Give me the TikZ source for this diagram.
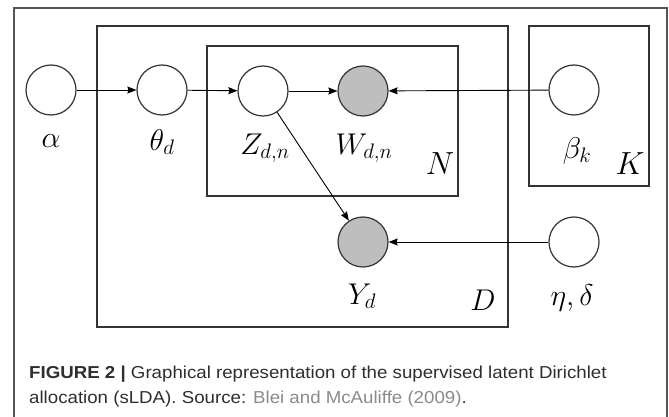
\RequirePackage{fix-cm}
\documentclass[tikz,border=0pt]{standalone}
\usepackage{fontspec}
\newfontfamily\capfont[FakeStretch=1.08]{Liberation Sans}
\usetikzlibrary{arrows.meta}
\definecolor{linegray}{HTML}{333333}
\definecolor{framegray}{HTML}{555555}
\definecolor{fillgray}{HTML}{BEBEBE}
\definecolor{capdark}{HTML}{2E2E2E}
\definecolor{caplight}{HTML}{8A8A8A}
\tikzset{
  var/.style={circle, draw=linegray, line width=1.2pt, minimum size=50pt, inner sep=0pt, fill=white},
  obs/.style={var, fill=fillgray},
  plate/.style={draw=linegray, line width=1.2pt},
  arr/.style={-{Stealth[length=9pt,width=7pt,inset=1pt]}, line width=0.9pt, black},
  lab/.style={anchor=base, inner sep=0pt, font=\fontsize{30}{34}\selectfont},
  platelab/.style={anchor=base, inner sep=0pt, font=\fontsize{32}{36}\selectfont},
  captext/.style={anchor=base west, inner sep=0pt, font=\capfont\fontsize{17.3}{21}\selectfont, text=capdark}
}
\begin{document}
\begin{tikzpicture}[x=1pt,y=-1pt]
\useasboundingbox (0,0) rectangle (669,417);
% outer frame
\draw[framegray, line width=1.2pt] (14,440) -- (14,8) -- (667,8) -- (667,440);
% plates
\draw[plate] (97,26) rectangle (508,327);
\draw[plate] (207,46) rectangle (458,196);
\draw[plate] (529,26) rectangle (649,186);
% nodes
\node[var] (alpha) at (51,90) {};
\node[var] (theta) at (162,90) {};
\node[var] (Z) at (263,91) {};
\node[obs] (W) at (363,91) {};
\node[var] (beta) at (574,90) {};
\node[obs] (Y) at (363,242) {};
\node[var] (eta) at (574,242) {};
% labels
\node[lab] (lalpha) at (51,147) {$\alpha$};
\node[lab] (ltheta) at (162,150) {$\theta_d$};
\node[lab] (lZ) at (265,154) {$Z_{d,n}$};
\node[lab] (lW) at (364,154) {$W_{d,n}$};
\node[lab] (lbeta) at (577,158) {$\beta_k$};
\node[lab] (lY) at (362,304) {$Y_d$};
\node[lab] (leta) at (572,305) {$\eta,\delta$};
\node[platelab] (lN) at (440,175) {$N$};
\node[platelab] (lK) at (630,174) {$K$};
\node[lab] (lD) at (483,310) {$D$};
% edges
\draw[arr] (alpha) -- (theta);
\draw[arr] (theta) -- (Z);
\draw[arr] (Z) -- (W);
\draw[arr] (beta) -- (W);
\draw[arr] (eta) -- (Y);
\draw[arr] (Z) -- (Y);
% caption
\node[captext] (cap1) at (29,378) {\textbf{FIGURE 2 |} Graphical representation of the supervised latent Dirichlet};
\node[captext] (cap2) at (29,403) {allocation (sLDA). Source: \textcolor{caplight}{Blei and McAuliffe (2009)}.};
\end{tikzpicture}
\end{document}
